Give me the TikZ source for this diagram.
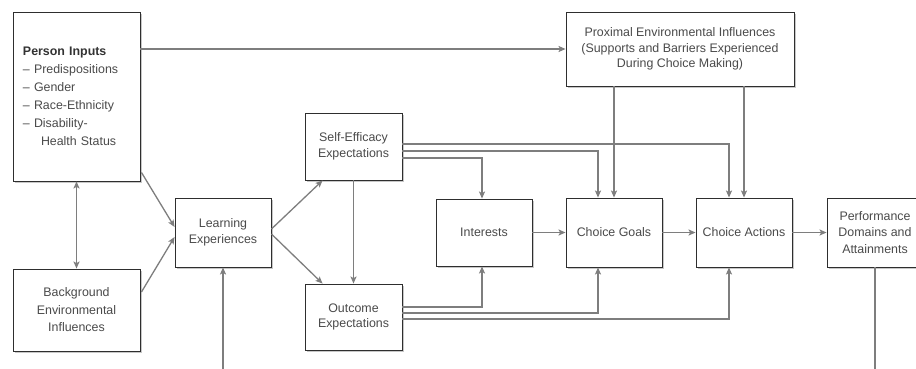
\documentclass[tikz,border=0pt]{standalone}
\usepackage{fontspec}
\setmainfont{Liberation Sans}
\usetikzlibrary{arrows.meta,calc,shadows}

\definecolor{boxline}{HTML}{2E2E2E}
\definecolor{txt}{HTML}{4A4A4A}
\definecolor{conn}{HTML}{7E7E7E}

\tikzset{
  box/.style={draw=boxline, line width=0.9pt, fill=white, rectangle,
    align=center, text=txt, inner sep=2pt,
    font=\fontsize{12.4}{15.5}\selectfont,
    drop shadow={shadow xshift=2pt, shadow yshift=-2pt, fill=black!22, opacity=1}},
  arr/.style={draw=conn, line width=1.3pt,
    -{Stealth[length=7pt, width=6pt, inset=1.5pt]}},
  darr/.style={draw=conn, line width=1.3pt,
    {Stealth[length=7pt, width=6pt, inset=1.5pt]}-{Stealth[length=7pt, width=6pt, inset=1.5pt]}},
  plain/.style={draw=conn, line width=1.3pt}
}

\begin{document}
\begin{tikzpicture}[x=1pt, y=-1pt]
\path[use as bounding box] (0,0) rectangle (916,369);
\clip (0,0) rectangle (916,369);

% boxes
\node[box, minimum width=127pt, minimum height=169pt, text width=107pt,
      inner xsep=10pt, align=left, font=\fontsize{12.4}{18}\selectfont]
  (person) at (76.5,96.5)
  {\textbf{\color{black!80}Person Inputs}\\
   -- Predispositions\\
   -- Gender\\
   -- Race-Ethnicity\\
   -- Disability-\\
   \hspace*{18pt}Health Status};
\node[box, minimum width=127pt, minimum height=82pt,
      font=\fontsize{12.4}{17.5}\selectfont] (bg) at (76.5,310)
  {Background\\Environmental\\Influences};
\node[box, minimum width=96pt, minimum height=69pt] (learn) at (223,232.5)
  {Learning\\Experiences};
\node[box, minimum width=97pt, minimum height=67pt] (self) at (353.5,146.5)
  {Self-Efficacy\\Expectations};
\node[box, minimum width=97pt, minimum height=66pt] (outc) at (353.5,317)
  {Outcome\\Expectations};
\node[box, minimum width=96pt, minimum height=67pt] (inter) at (484,232.5)
  {Interests};
\node[box, minimum width=96pt, minimum height=69pt] (goals) at (614,232.5)
  {Choice Goals};
\node[box, minimum width=96pt, minimum height=69pt] (actions) at (744,232.5)
  {Choice Actions};
\node[box, minimum width=96pt, minimum height=69pt,
      font=\fontsize{12.4}{16.5}\selectfont] (perf) at (875,232.5)
  {Performance\\Domains and\\Attainments};
\node[box, minimum width=228pt, minimum height=74pt] (prox) at (680,49)
  {Proximal Environmental Influences\\(Supports and Barriers Experienced\\During Choice Making)};

% free ends of the feedback loop below
\coordinate (fbout) at (875,372);
\coordinate (fbin) at (223,372);

% connectors
\draw[arr] (person.east |- prox.west) -- (prox.west);
\draw[darr] (person.south) -- (bg.north);
\draw[arr] ($(person.south east)+(1,-9)$) -- ($(learn.west)+(0,-5.5)$);
\draw[arr] ($(bg.east)+(1,-18)$) -- ($(learn.west)+(0,4.5)$);
\draw[arr] ($(learn.east)+(0,-3.5)$) -- ($(self.south west)+(18,0)$);
\draw[arr] ($(learn.east)+(0,1.5)$) -- ($(outc.north west)+(18,0)$);
\draw[arr] (self.south) -- (outc.north);

\draw[arr] ($(self.east)+(0,11.5)$) -| ($(inter.north)+(-2,0)$);
\draw[arr] ($(self.east)+(0,4.5)$) -| ($(goals.north)+(-16,0)$);
\draw[arr] ($(self.east)+(0,-2.5)$) -| ($(actions.north)+(-15,0)$);

\draw[arr] (prox.south -| goals.north) -- (goals.north);
\draw[arr] (prox.south -| actions.north) -- (actions.north);

\draw[arr] ($(outc.east)+(0,-10)$) -| ($(inter.south)+(-2,0)$);
\draw[arr] ($(outc.east)+(0,-4)$) -| ($(goals.south)+(-16,0)$);
\draw[arr] ($(outc.east)+(0,2)$) -| ($(actions.south)+(-15,0)$);

\draw[arr] (inter.east) -- (goals.west);
\draw[arr] (goals.east) -- (actions.west);
\draw[arr] (actions.east) -- (perf.west);

\draw[plain] (perf.south) -- (fbout);
\draw[arr] (fbin) -- (learn.south);
\end{tikzpicture}
\end{document}
